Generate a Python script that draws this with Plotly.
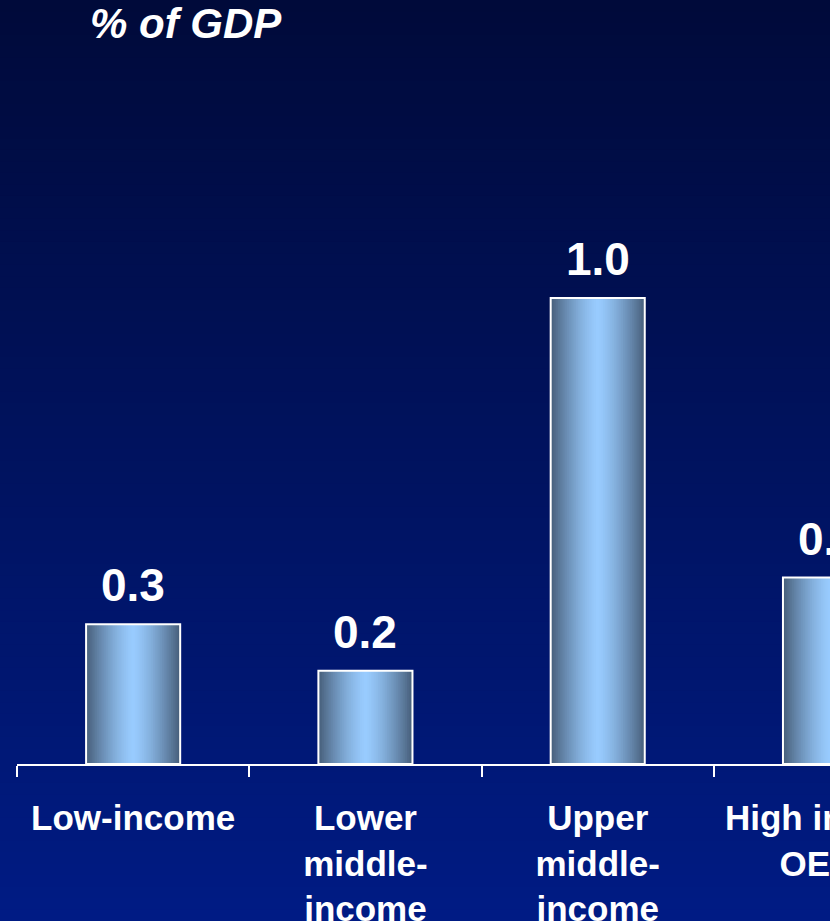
import plotly.graph_objects as go

# ---- data ----
categories = ["Low-income", "Lower<br>middle-<br>income", "Upper<br>middle-<br>income", "High income<br>OECD"]
values = [0.3, 0.2, 1.0, 0.4]
value_labels = ["0.3", "0.2", "1.0", "0.4"]
title_text = "% of GDP"

# ---- style ----
W, H = 830, 921
ML, MR, MT, MB = 17, 0, 65, 157
BAR_W = 0.405
EDGE = (72, 96, 124)
CENTER = (153, 204, 255)
BG_TOP = (0, 10, 58)
BG_BOT = (0, 27, 132)
FONT = "Liberation Sans, Arial, sans-serif"


def mix(a, b, t):
    return "rgb(%d,%d,%d)" % tuple(round(a[i] + (b[i] - a[i]) * t) for i in range(3))


fig = go.Figure()

# gradient bars: nested overlay bars, narrowing toward the centre
N = 26
for i in range(N):
    frac = 1 - i / N  # relative half-width of this layer
    s = 1 - frac ** 1.4
    fig.add_trace(go.Bar(
        x=categories, y=values, width=BAR_W * frac,
        marker=dict(color=mix(EDGE, CENTER, s), line=dict(width=0)),
        hoverinfo="skip", showlegend=False,
    ))
# white outline on top
fig.add_trace(go.Bar(
    x=categories, y=values, width=BAR_W,
    marker=dict(color="rgba(0,0,0,0)", line=dict(color="white", width=2)),
    hoverinfo="skip", showlegend=False,
))

# background vertical gradient (paper coordinates)
shapes = []
NS = 80
pw = W - ML - MR
ph = H - MT - MB
x0 = -ML / pw
x1 = 1 + 5 / pw
ytop = 1 + MT / ph
ybot = -MB / ph
for k in range(NS):
    ya = ytop - (ytop - ybot) * k / NS
    yb = ytop - (ytop - ybot) * (k + 1.15) / NS
    shapes.append(dict(type="rect", xref="paper", yref="paper", x0=x0, x1=x1,
                       y0=yb, y1=ya, layer="below", line=dict(width=0),
                       fillcolor=mix(BG_TOP, BG_BOT, k / (NS - 1))))

annotations = []
for c, v, t in zip(categories, values, value_labels):
    annotations.append(dict(x=c, y=v, text="<b>%s</b>" % t, showarrow=False,
                            yanchor="bottom", yshift=11,
                            font=dict(family=FONT, size=46, color="white")))

fig.update_layout(
    width=W, height=H,
    margin=dict(l=ML, r=MR, t=MT, b=MB, pad=0),
    barmode="overlay",
    paper_bgcolor=mix(BG_TOP, BG_TOP, 0),
    plot_bgcolor="rgba(0,0,0,0)",
    shapes=shapes,
    annotations=annotations,
    title=dict(text="<b><i>%s</i></b>" % title_text, x=90 / W, xref="container",
               xanchor="left", y=1 - 23 / H, yref="container", yanchor="middle",
               font=dict(family=FONT, size=42, color="white")),
    xaxis=dict(type="category", range=[-0.5, 3.0], showline=True, linecolor="white",
               linewidth=2, ticks="outside", tickson="boundaries", ticklen=11,
               tickwidth=2, tickcolor="white", showgrid=False, automargin=False,
               ticklabelstandoff=22,
               tickfont=dict(family=FONT, size=35, color="white"),
               tickprefix="<b>", ticksuffix="</b>", fixedrange=True),
    yaxis=dict(range=[0, 1.5], visible=False, showgrid=False, zeroline=False,
               fixedrange=True),
    font=dict(family=FONT, color="white"),
)

fig.write_html("out.html", config={"displayModeBar": False})
